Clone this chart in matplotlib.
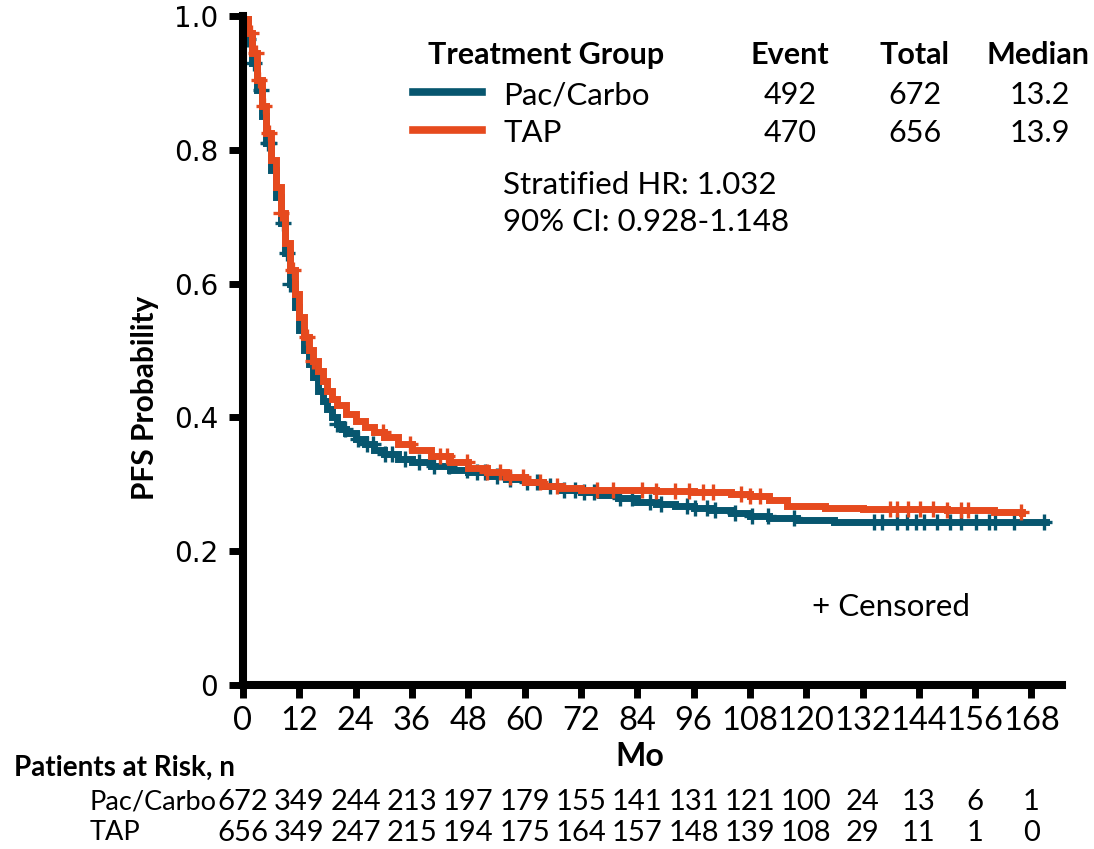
"""Kaplan-Meier style PFS chart: Pac/Carbo vs TAP
"""

import matplotlib
matplotlib.use("Agg")
import matplotlib.pyplot as plt
from matplotlib.lines import Line2D
import numpy as np

# Survival curves (months, probability)
pc_time = [0, 1, 2, 3, 4, 5, 6, 7, 8, 9, 10, 11, 12, 13, 14, 15, 16, 17, 18,
           19, 20, 21, 22, 24, 26, 28, 30, 33, 36, 40, 44, 48, 52, 56, 60, 64,
           68, 72, 76, 80, 84, 88, 92, 96, 100, 104, 108, 112, 118, 126, 150,
           171]
pc_surv = [1.0, 0.965, 0.93, 0.89, 0.85, 0.81, 0.77, 0.73, 0.69, 0.645, 0.60,
           0.565, 0.53, 0.50, 0.48, 0.46, 0.44, 0.425, 0.412, 0.40, 0.39,
           0.383, 0.377, 0.368, 0.36, 0.352, 0.346, 0.338, 0.333, 0.327, 0.322,
           0.318, 0.313, 0.308, 0.303, 0.298, 0.292, 0.288, 0.284, 0.279,
           0.274, 0.271, 0.268, 0.265, 0.261, 0.257, 0.253, 0.25, 0.247, 0.244,
           0.244, 0.244]

tap_time = [0, 1, 2, 3, 4, 5, 6, 7, 8, 9, 10, 11, 12, 13, 14, 15, 16, 17, 18,
            19, 20, 22, 24, 26, 28, 30, 33, 36, 40, 44, 48, 52, 56, 60, 64, 68,
            72, 80, 88, 96, 104, 108, 112, 116, 124, 132, 150, 160, 166]
tap_surv = [1.0, 0.975, 0.945, 0.905, 0.865, 0.825, 0.785, 0.745, 0.705, 0.66,
            0.62, 0.585, 0.55, 0.52, 0.50, 0.485, 0.47, 0.455, 0.44, 0.428,
            0.418, 0.405, 0.395, 0.386, 0.378, 0.37, 0.36, 0.352, 0.342, 0.333,
            0.325, 0.318, 0.311, 0.304, 0.298, 0.294, 0.292, 0.291, 0.290,
            0.288, 0.286, 0.283, 0.276, 0.268, 0.265, 0.263, 0.262, 0.259,
            0.257]

# Censoring times (months)
pc_censor = [1.0, 2.4, 3.8, 5.3, 5.6, 8.5, 9.3, 10.0, 20, 21.7, 24.6, 26.4,
             27.8, 30.3, 31.7, 34.5, 37.4, 40.6, 43.8, 47.7, 49.8, 51.6, 54.1,
             56.9, 60.5, 62.6, 65.5, 68.3, 70.8, 72.6, 74.7, 80.4, 82.9, 86.8,
             89.0, 94.6, 96.4, 98.9, 100.6, 104.9, 108.4, 111.9, 117.3, 134.4,
             136.2, 139.4, 141.5, 143.3, 145.0, 147.9, 150.7, 152.9, 156.1,
             158.9, 160.3, 164.2, 170.6]
tap_censor = [1.7, 2.8, 3.5, 4.5, 5.6, 8.1, 10.7, 13.6, 15.0, 29.8, 35.6, 42,
              43.4, 47.7, 52, 54.8, 56.9, 59.7, 63.3, 66.9, 75.4, 78.9, 85, 88,
              92, 95, 98, 100.2, 106, 108, 110.2, 137.9, 139.4, 141.6, 144.3,
              147.1, 150.1, 152.9, 154.4, 165.7]

# Patients at risk
risk_months = [0, 12, 24, 36, 48, 60, 72, 84, 96, 108, 120, 132, 144, 156, 168]
pc_risk = [672, 349, 244, 213, 197, 179, 155, 141, 131, 121, 100, 24, 13, 6, 1]
tap_risk = [656, 349, 247, 215, 194, 175, 164, 157, 148, 139, 108, 29, 11, 1, 0]

# Legend table
groups = ["Pac/Carbo", "TAP"]
events = [492, 470]
totals = [672, 656]
medians = ["13.2", "13.9"]

TEAL = "#07566f"
ORANGE = "#e64a1e"
FONT = ["Lato", "DejaVu Sans"]

W, H = 1094, 849


def px(x, y):
    """pixel position -> figure fraction"""
    return x / W, 1 - y / H


def step_value(times, surv, t):
    idx = np.searchsorted(times, t, side="right") - 1
    return np.asarray(surv)[idx]


fig = plt.figure(figsize=(W / 100, H / 100), dpi=100)
ax = fig.add_axes([243 / W, 1 - 685 / H, (1062 - 243) / W, (685 - 16) / H])

for t, s, c, col in [(pc_time, pc_surv, pc_censor, TEAL),
                     (tap_time, tap_surv, tap_censor, ORANGE)]:
    ax.plot(t, s, drawstyle="steps-post", color=col, lw=5, solid_joinstyle="miter")
    ax.plot(c, step_value(t, s, c), linestyle="none", marker="+",
            markersize=11, mew=2.4, color=col)

ax.set_xlim(0, 174.5)
ax.set_ylim(0, 1.0)
ax.set_xticks(risk_months)
ax.set_xticklabels([str(m) for m in risk_months], family=FONT, fontsize=23.5)
ax.set_yticks([0, 0.2, 0.4, 0.6, 0.8, 1.0])
ax.set_yticklabels(["0", "0.2", "0.4", "0.6", "0.8", "1.0"],
                   family="DejaVu Sans", fontsize=20)
ax.tick_params(axis="x", length=9, width=5, pad=6)
ax.tick_params(axis="y", length=10, width=5, pad=8)
for side in ["top", "right"]:
    ax.spines[side].set_visible(False)
for side in ["left", "bottom"]:
    ax.spines[side].set_linewidth(5.8)
    ax.spines[side].set_capstyle("projecting")
ax.patch.set_visible(False)

# Axis titles
fig.text(*px(145, 398), "PFS Probability", rotation=90, ha="center",
         va="center", family=FONT, fontsize=21.5, fontweight="bold")
fig.text(*px(640, 757), "Mo", ha="center", va="center", family=FONT,
         fontsize=23, fontweight="bold")

# Risk table
fig.text(*px(14, 768), "Patients at Risk, n", ha="left", va="center",
         family=FONT, fontsize=20, fontweight="bold")
xtr = ax.get_xaxis_transform()
for name, counts, ypix in [("Pac/Carbo", pc_risk, 802), ("TAP", tap_risk, 833)]:
    fig.text(*px(90, ypix), name, ha="left", va="center", family=FONT,
             fontsize=19.5)
    yax = (685 - ypix) / (685 - 16)
    for m, n in zip(risk_months, counts):
        ax.text(m, yax, str(n), transform=xtr, ha="center", va="center",
                family=FONT, fontsize=21, clip_on=False)

# Legend block
fig.text(*px(428, 55), "Treatment Group", ha="left", va="center",
         family=FONT, fontsize=22, fontweight="bold")
for label, xc in [("Event", 790), ("Total", 915), ("Median", 1038)]:
    fig.text(*px(xc, 55), label, ha="center", va="center", family=FONT,
             fontsize=22, fontweight="bold")
for i, (g, col) in enumerate(zip(groups, [TEAL, ORANGE])):
    ypix = 95 + i * 38
    x0, y0 = px(413, ypix - 3)
    x1, _ = px(482, ypix - 3)
    fig.add_artist(Line2D([x0, x1], [y0, y0], color=col, lw=5.5,
                          transform=fig.transFigure))
    fig.text(*px(503, ypix), g, ha="left", va="center", family=FONT,
             fontsize=22.5)
    fig.text(*px(790, ypix), str(events[i]), ha="center", va="center",
             family=FONT, fontsize=22)
    fig.text(*px(915, ypix), str(totals[i]), ha="center", va="center",
             family=FONT, fontsize=22)
    fig.text(*px(1040, ypix), medians[i], ha="center", va="center",
             family=FONT, fontsize=22)

fig.text(*px(503, 185), "Stratified HR: 1.032", ha="left", va="center",
         family=FONT, fontsize=22.5)
fig.text(*px(503, 222), "90% CI: 0.928-1.148", ha="left", va="center",
         family=FONT, fontsize=22.5)
fig.text(*px(812, 607), "+ Censored", ha="left", va="center",
         family=FONT, fontsize=22.5)

fig.savefig("out.png", dpi=100)
